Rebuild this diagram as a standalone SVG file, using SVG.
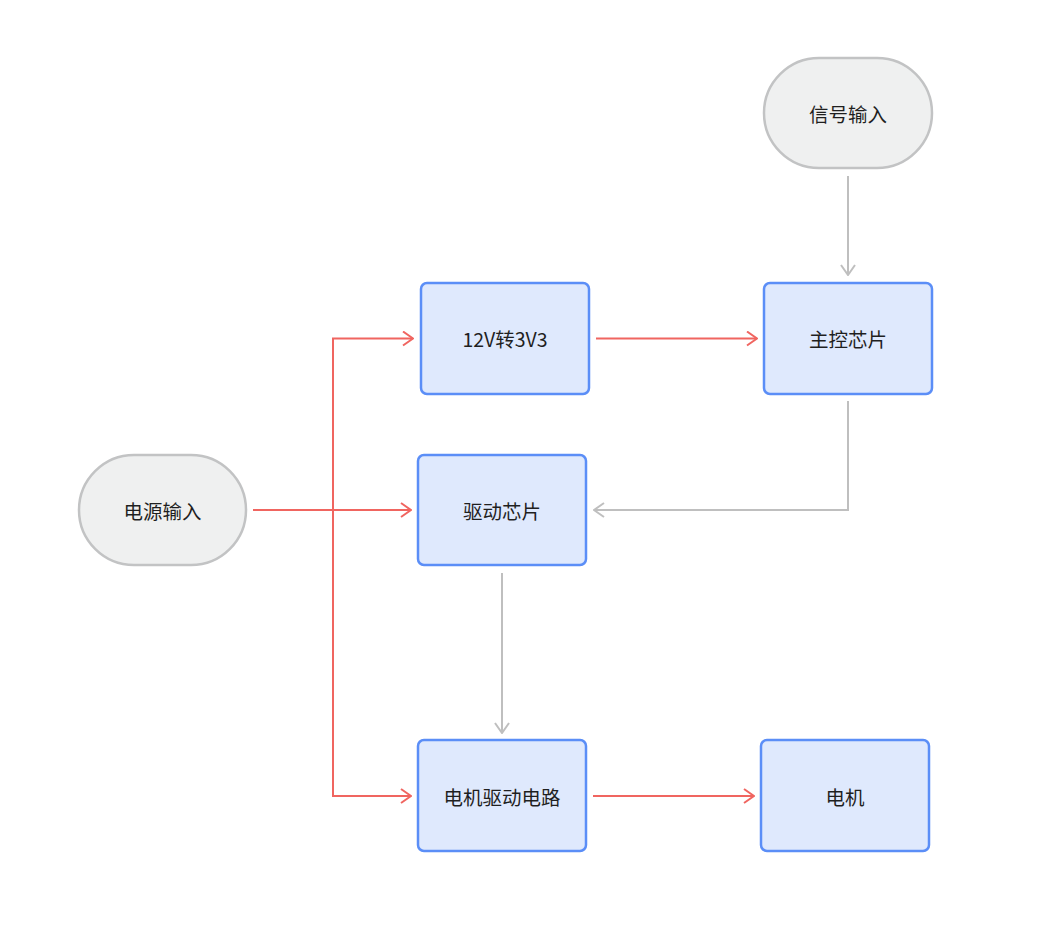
<svg xmlns="http://www.w3.org/2000/svg" width="1051" height="945" viewBox="0 0 1051 945">
<style>
.term rect{fill:#eff0f0;stroke:#c2c3c4;stroke-width:2.5}
.proc rect{fill:#dfe9fd;stroke:#5b8ef7;stroke-width:2.5}
text{font-family:"Noto Sans CJK SC","Noto Sans",sans-serif;font-size:19.5px;fill:#1f1f1f;text-anchor:middle;dominant-baseline:central}
.red{fill:none;stroke:#f06560;stroke-width:2}
.grey{fill:none;stroke:#bfbfbf;stroke-width:2}
</style>
<defs>
<marker id="ar" viewBox="0 0 12 16" refX="11" refY="8" markerWidth="12" markerHeight="16" markerUnits="userSpaceOnUse" orient="auto">
<polyline points="1,1 11,8 1,15" fill="none" stroke="#f06560" stroke-width="2"/>
</marker>
<marker id="ag" viewBox="0 0 12 16" refX="11" refY="8" markerWidth="12" markerHeight="16" markerUnits="userSpaceOnUse" orient="auto">
<polyline points="1,1 11,8 1,15" fill="none" stroke="#bfbfbf" stroke-width="2"/>
</marker>
</defs>
<rect width="1051" height="945" fill="#ffffff"/>
<g id="connectors">
<path class="grey" d="M848,176 V275" marker-end="url(#ag)"/>
<path class="red" d="M596,338.5 H757" marker-end="url(#ar)"/>
<path class="grey" d="M848,401 V510 H594" marker-end="url(#ag)"/>
<path class="red" d="M253,510 H333 V338.5 H413" marker-end="url(#ar)"/>
<path class="red" d="M253,510 H411" marker-end="url(#ar)"/>
<path class="red" d="M333,510 V796 H411" marker-end="url(#ar)"/>
<path class="grey" d="M502,573 V733" marker-end="url(#ag)"/>
<path class="red" d="M593,796 H754" marker-end="url(#ar)"/>
</g>
<g id="signal" class="term"><rect x="764" y="58" width="168" height="110" rx="55"/><text x="848" y="113">信号输入</text></g>
<g id="conv" class="proc"><rect x="421" y="283" width="168" height="111" rx="6"/><text x="505" y="338.5">12V转3V3</text></g>
<g id="mcu" class="proc"><rect x="764" y="283" width="168" height="111" rx="6"/><text x="848" y="338.5">主控芯片</text></g>
<g id="power" class="term"><rect x="79" y="455" width="167" height="110" rx="55"/><text x="162.5" y="510">电源输入</text></g>
<g id="driver" class="proc"><rect x="418" y="455" width="168" height="110" rx="6"/><text x="502" y="510">驱动芯片</text></g>
<g id="mdrv" class="proc"><rect x="418" y="740" width="168" height="111" rx="6"/><text x="502" y="796">电机驱动电路</text></g>
<g id="motor" class="proc"><rect x="761" y="740" width="168" height="111" rx="6"/><text x="845" y="796">电机</text></g>
</svg>
